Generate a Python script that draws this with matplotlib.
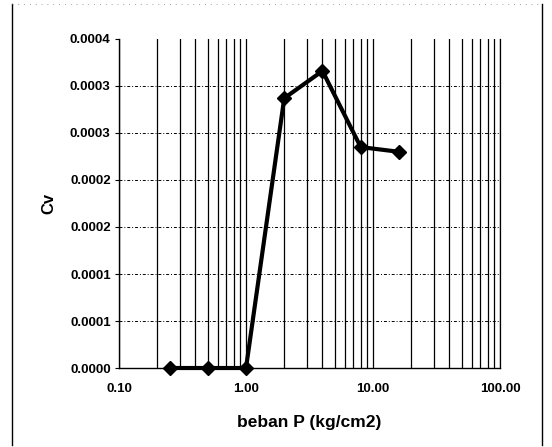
import numpy as np
import matplotlib.pyplot as plt
from matplotlib.ticker import FixedLocator, FixedFormatter, LogLocator, NullFormatter

plt.rcParams['font.family'] = ['Liberation Sans', 'DejaVu Sans']

# data
beban = [0.25, 0.5, 1.0, 2.0, 4.0, 8.0, 16.0]
cv = [0.0, 0.0, 0.0, 0.000287, 0.000316, 0.000235, 0.000230]

y_ticks = [0.0, 0.00005, 0.0001, 0.00015, 0.0002, 0.00025, 0.0003, 0.00035]
y_labels = ["0.0000", "0.0001", "0.0001", "0.0002", "0.0002", "0.0003", "0.0003", "0.0004"]
x_ticks = [0.1, 1, 10, 100]
x_labels = ["0.10", "1.00", "10.00", "100.00"]

fig = plt.figure(figsize=(5.52, 4.47), dpi=100)
ax = fig.add_axes([0.2156, 0.1767, 0.6902, 0.7361])

ax.set_xscale('log')
ax.set_xlim(0.1, 100)
ax.set_ylim(0, 0.00035)

# garis grid vertikal (major + minor), solid
ax.xaxis.set_major_locator(FixedLocator(x_ticks))
ax.xaxis.set_major_formatter(FixedFormatter(x_labels))
ax.xaxis.set_minor_locator(LogLocator(base=10, subs=np.arange(2, 10)))
ax.xaxis.set_minor_formatter(NullFormatter())
ax.grid(True, which='both', axis='x', color='black', linewidth=0.9, linestyle='-')

ax.yaxis.set_major_locator(FixedLocator(y_ticks))
ax.yaxis.set_major_formatter(FixedFormatter(y_labels))
ax.grid(True, which='major', axis='y', color='black', linewidth=0.7,
        linestyle=(0, (3, 2, 1, 2)))
# no horizontal line along the top
ax.get_ygridlines()[-1].set_visible(False)

ax.plot(beban, cv, color='black', linewidth=3, marker='D', markersize=7.5, zorder=5,
        clip_on=False)

ax.spines['top'].set_visible(False)
ax.spines['right'].set_linewidth(0.9)
ax.spines['left'].set_linewidth(1.0)
ax.spines['bottom'].set_linewidth(1.0)
ax.tick_params(axis='y', which='major', length=3, labelsize=9.5, pad=3)
ax.tick_params(axis='x', which='major', length=0, labelsize=9.5, pad=11)
ax.tick_params(axis='x', which='minor', length=0)
for lab in ax.get_xticklabels() + ax.get_yticklabels():
    lab.set_fontweight('bold')

ax.set_xlabel("beban P (kg/cm2)", fontsize=12.5, fontweight='bold', labelpad=14)
ax.set_ylabel("Cv", fontsize=12, fontweight='bold', labelpad=10)

# bingkai luar dari chart hasil scan
fig.add_artist(plt.Line2D([0.0226, 0.0226], [0.005, 0.99], color='black', linewidth=1.0))
fig.add_artist(plt.Line2D([0.981, 0.981], [0.005, 0.99], color='black', linewidth=1.0))
fig.add_artist(plt.Line2D([0.0226, 0.981], [0.99, 0.99], color='gray', linewidth=0.6,
                          linestyle=(0, (1, 6))))

fig.savefig("out.png", dpi=100)
